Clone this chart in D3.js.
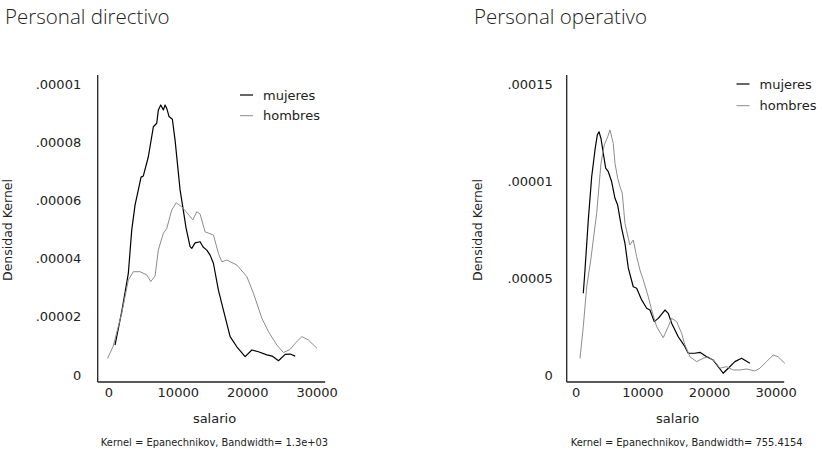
<!DOCTYPE html>
<html>
<head>
<meta charset="utf-8">
<script src="https://cdn.jsdelivr.net/npm/d3@7"></script>
<style>
  html, body { margin: 0; padding: 0; background: #fff; }
  svg { display: block; }
  text { font-family: "DejaVu Sans", sans-serif; fill: #222; }
  .title { font-family: "Open Sans", sans-serif; font-weight: 300; font-size: 20.5px; fill: #222; }
</style>
</head>
<body>
<svg id="chart" width="822" height="451"></svg>
<script>
// Kernel density of salaries, by sex — management staff
const directivoMujeresSalario = [965, 1974, 2882, 3372, 3848, 4323, 4712, 5044, 5764, 6485, 6974, 7205, 7551, 7926, 8171, 8416, 8747, 9222, 9612, 10332, 10721, 11197, 11773, 12018, 12494, 13214, 13646, 14180, 14655, 15131, 15851, 16572, 17537, 18502, 19698, 20664, 21615, 22825, 23589, 24497, 25462, 26183, 26903];
const directivoMujeresDensidad = [1.03e-5, 2.23e-5, 3.49e-5, 4.98e-5, 5.84e-5, 6.36e-5, 6.80e-5, 6.84e-5, 7.50e-5, 8.53e-5, 8.65e-5, 9.11e-5, 9.28e-5, 9.11e-5, 9.28e-5, 9.16e-5, 8.88e-5, 8.79e-5, 8.07e-5, 6.36e-5, 5.78e-5, 5.05e-5, 4.41e-5, 4.35e-5, 4.54e-5, 4.58e-5, 4.40e-5, 4.29e-5, 4.12e-5, 3.84e-5, 2.92e-5, 2.23e-5, 1.32e-5, 0.97e-5, 0.63e-5, 0.86e-5, 0.80e-5, 0.69e-5, 0.65e-5, 0.49e-5, 0.71e-5, 0.72e-5, 0.65e-5];
const directivoHombresSalario = [-100, 720, 1931, 2882, 3603, 4568, 5533, 6110, 6729, 7205, 7926, 8416, 9136, 9756, 10577, 11341, 12162, 12738, 13214, 13934, 15131, 15851, 16341, 17061, 18502, 19943, 20895, 22105, 23056, 24267, 25218, 26183, 26903, 27869, 28820, 30030];
const directivoHombresDensidad = [0.57e-5, 1.00e-5, 2.12e-5, 3.26e-5, 3.55e-5, 3.55e-5, 3.44e-5, 3.21e-5, 3.40e-5, 4.30e-5, 4.87e-5, 5.04e-5, 5.67e-5, 5.92e-5, 5.78e-5, 5.57e-5, 5.33e-5, 5.61e-5, 5.53e-5, 4.92e-5, 4.81e-5, 4.18e-5, 3.89e-5, 3.95e-5, 3.78e-5, 3.38e-5, 2.81e-5, 1.95e-5, 1.49e-5, 1.03e-5, 0.77e-5, 0.88e-5, 1.09e-5, 1.32e-5, 1.20e-5, 0.92e-5];

// Kernel density of salaries, by sex — operational staff
const operativoMujeresSalario = [1139, 1394, 1889, 2398, 2893, 3238, 3493, 3792, 4137, 4497, 4887, 5396, 5891, 6296, 6895, 7390, 7885, 8634, 9144, 9893, 10643, 11138, 11782, 12382, 13386, 13881, 14390, 15380, 16384, 16879, 17883, 18633, 19637, 20626, 21376, 22125, 22875, 23879, 24883, 26128];
const operativoMujeresDensidad = [4.21e-5, 5.41e-5, 7.99e-5, 10.22e-5, 11.60e-5, 12.37e-5, 12.54e-5, 12.20e-5, 11.43e-5, 10.66e-5, 10.48e-5, 9.96e-5, 9.11e-5, 8.76e-5, 7.56e-5, 6.79e-5, 5.52e-5, 4.55e-5, 4.47e-5, 3.87e-5, 3.44e-5, 3.35e-5, 2.75e-5, 2.92e-5, 3.35e-5, 3.18e-5, 2.67e-5, 1.97e-5, 1.46e-5, 1.12e-5, 1.12e-5, 1.17e-5, 0.94e-5, 0.77e-5, 0.43e-5, 0.09e-5, 0.35e-5, 0.69e-5, 0.86e-5, 0.60e-5];
const operativoHombresSalario = [645, 1139, 1649, 2219, 3148, 3792, 4287, 4797, 5142, 5636, 5891, 6296, 6641, 6985, 7390, 7885, 8140, 8634, 9144, 9639, 10133, 10883, 11392, 12142, 13131, 13881, 14390, 15140, 15890, 16384, 17134, 18138, 19127, 19877, 20881, 21631, 22635, 23624, 24629, 25633, 26877, 27627, 28631, 29620, 30370, 31384];
const operativoHombresDensidad = [0.86e-5, 2.49e-5, 4.55e-5, 5.83e-5, 8.34e-5, 10.91e-5, 11.86e-5, 12.28e-5, 12.63e-5, 11.94e-5, 10.91e-5, 10.14e-5, 9.71e-5, 9.37e-5, 7.82e-5, 7.05e-5, 6.70e-5, 6.96e-5, 6.10e-5, 5.41e-5, 4.90e-5, 4.04e-5, 3.35e-5, 2.49e-5, 1.92e-5, 2.49e-5, 2.92e-5, 2.75e-5, 2.15e-5, 1.55e-5, 0.94e-5, 0.69e-5, 0.86e-5, 0.94e-5, 0.69e-5, 0.35e-5, 0.43e-5, 0.26e-5, 0.26e-5, 0.31e-5, 0.21e-5, 0.35e-5, 0.69e-5, 1.03e-5, 0.94e-5, 0.60e-5];

// Axis ticks and their printed labels
const xTicks = [0, 10000, 20000, 30000];
const directivoYTicks = [0, 0.00002, 0.00004, 0.00006, 0.00008, 0.0001];
const directivoYLabels = ["0", ".00002", ".00004", ".00006", ".00008", ".00001"];
const operativoYTicks = [0, 0.00005, 0.0001, 0.00015];
const operativoYLabels = ["0", ".00005", ".00001", ".00015"];

const seriesNames = ["mujeres", "hombres"];
const seriesColors = ["#000000", "#8c8c8c"];
const seriesWidths = [1.2, 1];

const svg = d3.select("#chart");

function zip(xs, ys) { return xs.map((x, i) => [x, ys[i]]); }

function drawPanel(p) {
  const g = svg.append("g");

  const x = d3.scaleLinear().domain([0, 30000]).range(p.xRange);
  const y = d3.scaleLinear().domain(p.yDomain).range([375, 84]);

  // Title
  g.append("text").attr("class", "title")
    .attr("x", p.titleX).attr("y", 24).text(p.title);

  // Frame: left and bottom axis lines, padded beyond the data range
  const x0 = p.xRange[0] - p.padLeft, x1 = p.xRange[1] + 8.5;
  const yTop = 75, yBot = 382;
  g.append("line").attr("x1", x0).attr("x2", x0).attr("y1", yTop).attr("y2", yBot)
    .attr("stroke", "#222").attr("stroke-width", 1.3);
  g.append("line").attr("x1", x0).attr("x2", x1).attr("y1", yBot).attr("y2", yBot)
    .attr("stroke", "#222").attr("stroke-width", 1.3);

  // Y axis labels
  const yAxis = d3.axisLeft(y).tickValues(p.yTicks).tickSize(0).tickPadding(0)
    .tickFormat((d, i) => p.yLabels[i]);
  const ya = g.append("g").attr("transform", `translate(${x0 - p.yLabelGap},0)`).call(yAxis);
  ya.select(".domain").remove();
  ya.selectAll("text").attr("font-family", "DejaVu Sans").attr("font-size", 13).attr("fill", "#222");

  // X axis labels
  const xAxis = d3.axisBottom(x).tickValues(xTicks).tickSize(0).tickPadding(0)
    .tickFormat(d3.format("d"));
  const xa = g.append("g").attr("transform", `translate(0,${yBot + 6})`).call(xAxis);
  xa.select(".domain").remove();
  xa.selectAll("text").attr("font-family", "DejaVu Sans").attr("font-size", 13).attr("fill", "#222");

  // Axis titles
  const xMid = (p.xRange[0] + p.xRange[1]) / 2;
  g.append("text").attr("x", xMid + 2).attr("y", 423).attr("text-anchor", "middle")
    .attr("font-size", 13).text("salario");
  g.append("text").attr("transform", `translate(${p.yTitleX},230) rotate(-90)`)
    .attr("text-anchor", "middle").attr("font-size", 12.5).text("Densidad Kernel");
  g.append("text").attr("x", p.noteX).attr("y", 446).attr("text-anchor", "middle")
    .attr("font-size", 9.9).text(p.note);

  // Density curves
  const line = d3.line().x(d => x(d[0])).y(d => y(d[1])).curve(d3.curveLinear);
  p.series.forEach((s, i) => {
    g.append("path").datum(s).attr("d", line)
      .attr("fill", "none").attr("stroke", seriesColors[i])
      .attr("stroke-width", seriesWidths[i]).attr("stroke-linejoin", "round");
  });

  // Legend
  seriesNames.forEach((name, i) => {
    const ly = p.legendY + i * p.legendStep;
    g.append("line").attr("x1", p.legendX).attr("x2", p.legendX + 13)
      .attr("y1", ly).attr("y2", ly)
      .attr("stroke", seriesColors[i]).attr("stroke-width", seriesWidths[i]);
    g.append("text").attr("x", p.legendX + 23).attr("y", ly + 4.5)
      .attr("font-size", 13).text(name);
  });
}

drawPanel({
  title: "Personal directivo", titleX: 5,
  xRange: [108.3, 316.7], padLeft: 10.6,
  yDomain: [0, 0.0001], yTicks: directivoYTicks, yLabels: directivoYLabels, yLabelGap: 16.5,
  yTitleX: 12, noteX: 214.5,
  note: "Kernel = Epanechnikov, Bandwidth= 1.3e+03",
  legendX: 240, legendY: 95, legendStep: 20.7,
  series: [zip(directivoMujeresSalario, directivoMujeresDensidad), zip(directivoHombresSalario, directivoHombresDensidad)]
});

drawPanel({
  title: "Personal operativo", titleX: 474,
  xRange: [575.7, 775.7], padLeft: 9,
  yDomain: [0, 0.00015], yTicks: operativoYTicks, yLabels: operativoYLabels, yLabelGap: 13.8,
  yTitleX: 482, noteX: 686.7,
  note: "Kernel = Epanechnikov, Bandwidth= 755.4154",
  legendX: 736.5, legendY: 84, legendStep: 21.7,
  series: [zip(operativoMujeresSalario, operativoMujeresDensidad), zip(operativoHombresSalario, operativoHombresDensidad)]
});
</script>
</body>
</html>
